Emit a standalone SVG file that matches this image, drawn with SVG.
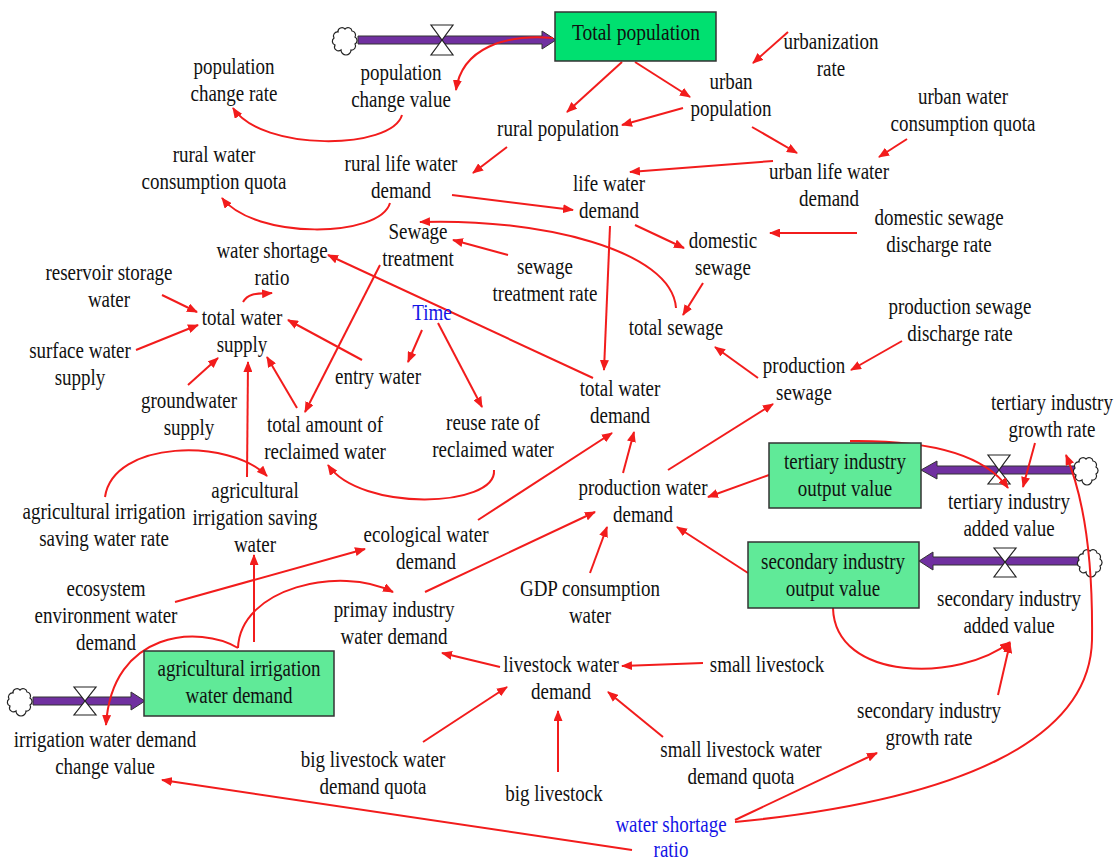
<svg xmlns="http://www.w3.org/2000/svg" width="1116" height="861" viewBox="0 0 1116 861">
<defs>
<marker id="ah" markerWidth="11" markerHeight="9" refX="10" refY="4.5" orient="auto" markerUnits="userSpaceOnUse">
<path d="M0,0 L11,4.5 L0,9 z" fill="#f21c1c"/>
</marker>
<path id="cloud" d="M-6,10 a4,4 0 0 1 -6,-5 a4,4 0 0 1 -1,-7 a4,4 0 0 1 4,-6 a4,4 0 0 1 7,-3 a4,4 0 0 1 7,2 a4,4 0 0 1 3,6 a4,4 0 0 1 0,7 a4,4 0 0 1 -4,6 a4,4 0 0 1 -10,0 z"/>
</defs>
<style>
.t{font-family:"Liberation Serif","Times New Roman",serif;font-size:19px;fill:#111;text-anchor:middle}
.b{fill:#1414e6}
.stock{fill:#60ea98;stroke:#333;stroke-width:1.5}
.stock0{fill:#00e070;stroke:#333;stroke-width:1.5}
.pipe{fill:#7030a0;stroke:#333;stroke-width:1}
.valve{fill:#fff;stroke:#222;stroke-width:1.2}
.cl{fill:#fff;stroke:#222;stroke-width:1.2}
.c{fill:none;stroke:#f21c1c;stroke-width:2;marker-end:url(#ah)}
</style>
<rect width="1116" height="861" fill="#fff"/>

<!-- flows -->
<g id="flows">
<polygon class="pipe" points="358,36 542,36 542,31 556,40 542,49 542,44 358,44"/>
<use href="#cloud" class="cl" x="347" y="40"/>
<polygon class="valve" points="431,25 453,25 442,40"/>
<polygon class="valve" points="442,40 431,55 453,55"/>

<polygon class="pipe" points="33,697 131,697 131,692 145,701 131,710 131,705 33,705"/>
<use href="#cloud" class="cl" x="22" y="701"/>
<polygon class="valve" points="74,687 96,687 85,701"/>
<polygon class="valve" points="85,701 74,715 96,715"/>

<polygon class="pipe" points="1078,466 937,466 937,461 921,470 937,479 937,474 1078,474"/>
<use href="#cloud" class="cl" x="1088" y="470"/>
<polygon class="valve" points="988,455 1010,455 999,470"/>
<polygon class="valve" points="999,470 988,484 1010,484"/>

<polygon class="pipe" points="1082,557 933,557 933,552 919,561 933,570 933,565 1082,565"/>
<use href="#cloud" class="cl" x="1092" y="562"/>
<polygon class="valve" points="994,548 1016,548 1005,562"/>
<polygon class="valve" points="1005,562 994,577 1016,577"/>
</g>

<!-- connectors -->
<g id="connectors">
<line class="c" x1="622" y1="62" x2="567" y2="112"/>
<line class="c" x1="635" y1="62" x2="690" y2="97"/>
<line class="c" x1="683" y1="108" x2="622" y2="125"/>
<line class="c" x1="788" y1="32" x2="753" y2="63"/>
<path class="c" d="M553,38 C505,34 462,48 456,90"/>
<path class="c" d="M402,115 C392,150 262,152 233,108"/>
<line class="c" x1="507" y1="147" x2="473" y2="173"/>
<path class="c" d="M390,203 C380,238 255,240 222,198"/>
<line class="c" x1="452" y1="195" x2="573" y2="210"/>
<line class="c" x1="752" y1="127" x2="797" y2="153"/>
<line class="c" x1="907" y1="139" x2="879" y2="157"/>
<line class="c" x1="773" y1="161" x2="630" y2="172"/>
<line class="c" x1="635" y1="225" x2="684" y2="248"/>
<line class="c" x1="857" y1="233" x2="770" y2="233"/>
<line class="c" x1="610" y1="226" x2="604" y2="370"/>
<line class="c" x1="703" y1="283" x2="683" y2="315"/>
<path class="c" d="M676,308 C672,250 540,218 420,222"/>
<line class="c" x1="508" y1="255" x2="453" y2="240"/>
<line class="c" x1="380" y1="265" x2="305" y2="412"/>
<line class="c" x1="593" y1="378" x2="328" y2="255"/>
<path class="c" d="M243,302 C249,292 259,294 272,293"/>
<line class="c" x1="162" y1="295" x2="197" y2="312"/>
<line class="c" x1="136" y1="350" x2="198" y2="325"/>
<line class="c" x1="188" y1="385" x2="218" y2="358"/>
<line class="c" x1="362" y1="360" x2="288" y2="320"/>
<line class="c" x1="297" y1="408" x2="267" y2="357"/>
<line class="c" x1="247" y1="477" x2="248" y2="362"/>
<line class="c" x1="422" y1="330" x2="408" y2="362"/>
<line class="c" x1="438" y1="323" x2="482" y2="407"/>
<path class="c" d="M494,470 C497,508 360,512 328,465"/>
<path class="c" d="M105,497 C113,440 230,438 267,476"/>
<line class="c" x1="254" y1="642" x2="254" y2="555"/>
<path class="c" d="M238,648 C240,588 340,565 393,592"/>
<path class="c" d="M238,648 C200,625 112,630 106,725"/>
<line class="c" x1="175" y1="602" x2="365" y2="549"/>
<line class="c" x1="478" y1="520" x2="612" y2="433"/>
<line class="c" x1="425" y1="592" x2="595" y2="512"/>
<line class="c" x1="590" y1="573" x2="607" y2="527"/>
<line class="c" x1="748" y1="573" x2="677" y2="527"/>
<line class="c" x1="769" y1="475" x2="708" y2="497"/>
<line class="c" x1="623" y1="473" x2="634" y2="432"/>
<line class="c" x1="668" y1="470" x2="773" y2="404"/>
<line class="c" x1="758" y1="378" x2="715" y2="347"/>
<line class="c" x1="902" y1="341" x2="851" y2="370"/>
<line class="c" x1="1035" y1="443" x2="1023" y2="487"/>
<path class="c" d="M850,441 C930,440 985,455 1008,488"/>
<path class="c" d="M735,822 C960,800 1090,740 1092,640 C1093,560 1085,500 1066,455"/>
<line class="c" x1="735" y1="820" x2="877" y2="753"/>
<line class="c" x1="632" y1="850" x2="162" y2="780"/>
<path class="c" d="M833,608 C835,682 960,682 1010,642"/>
<line class="c" x1="998" y1="695" x2="1010" y2="643"/>
<line class="c" x1="500" y1="667" x2="442" y2="653"/>
<line class="c" x1="703" y1="663" x2="622" y2="666"/>
<line class="c" x1="423" y1="742" x2="507" y2="687"/>
<line class="c" x1="558" y1="772" x2="558" y2="711"/>
<line class="c" x1="663" y1="737" x2="608" y2="692"/>
</g>

<!-- nodes -->
<g id="n-total-population"><rect class="stock0" x="555" y="12" width="161" height="49"/><text class="t" style="font-size:19.5px" transform="translate(636,40) scale(1,1.18)">Total population</text></g>
<g id="n-population-change-value"><text class="t" transform="translate(401,80) scale(1,1.18)"><tspan x="0">population</tspan><tspan x="0" dy="22.9">change value</tspan></text></g>
<g id="n-population-change-rate"><text class="t" transform="translate(234,74) scale(1,1.18)"><tspan x="0">population</tspan><tspan x="0" dy="22.9">change rate</tspan></text></g>
<g id="n-urbanization-rate"><text class="t" transform="translate(831,49) scale(1,1.18)"><tspan x="0">urbanization</tspan><tspan x="0" dy="22.9">rate</tspan></text></g>
<g id="n-urban-population"><text class="t" transform="translate(731,89) scale(1,1.18)"><tspan x="0">urban</tspan><tspan x="0" dy="22.9">population</tspan></text></g>
<g id="n-rural-population"><text class="t" transform="translate(558,136) scale(1,1.18)">rural population</text></g>
<g id="n-urban-water-quota"><text class="t" transform="translate(963,104) scale(1,1.18)"><tspan x="0">urban water</tspan><tspan x="0" dy="22.9">consumption quota</tspan></text></g>
<g id="n-rural-water-quota"><text class="t" transform="translate(214,162) scale(1,1.18)"><tspan x="0">rural water</tspan><tspan x="0" dy="22.9">consumption quota</tspan></text></g>
<g id="n-rural-life-water-demand"><text class="t" transform="translate(401,171) scale(1,1.18)"><tspan x="0">rural life water</tspan><tspan x="0" dy="22.9">demand</tspan></text></g>
<g id="n-life-water-demand"><text class="t" transform="translate(609,191) scale(1,1.18)"><tspan x="0">life water</tspan><tspan x="0" dy="22.9">demand</tspan></text></g>
<g id="n-urban-life-water-demand"><text class="t" transform="translate(829,179) scale(1,1.18)"><tspan x="0">urban life water</tspan><tspan x="0" dy="22.9">demand</tspan></text></g>
<g id="n-domestic-sewage-discharge-rate"><text class="t" transform="translate(939,225) scale(1,1.18)"><tspan x="0">domestic sewage</tspan><tspan x="0" dy="22.9">discharge rate</tspan></text></g>
<g id="n-sewage-treatment"><text class="t" transform="translate(418,239) scale(1,1.18)"><tspan x="0">Sewage</tspan><tspan x="0" dy="22.9">treatment</tspan></text></g>
<g id="n-water-shortage-ratio"><text class="t" transform="translate(272,258) scale(1,1.18)"><tspan x="0">water shortage</tspan><tspan x="0" dy="22.9">ratio</tspan></text></g>
<g id="n-domestic-sewage"><text class="t" transform="translate(723,248) scale(1,1.18)"><tspan x="0">domestic</tspan><tspan x="0" dy="22.9">sewage</tspan></text></g>
<g id="n-sewage-treatment-rate"><text class="t" transform="translate(545,274) scale(1,1.18)"><tspan x="0">sewage</tspan><tspan x="0" dy="22.9">treatment rate</tspan></text></g>
<g id="n-reservoir"><text class="t" transform="translate(109,280) scale(1,1.18)"><tspan x="0">reservoir storage</tspan><tspan x="0" dy="22.9">water</tspan></text></g>
<g id="n-total-water-supply"><text class="t" transform="translate(242,325) scale(1,1.18)"><tspan x="0">total water</tspan><tspan x="0" dy="22.9">supply</tspan></text></g>
<g id="n-time"><text class="t b" transform="translate(432,320) scale(1,1.18)">Time</text></g>
<g id="n-total-sewage"><text class="t" transform="translate(676,335) scale(1,1.18)">total sewage</text></g>
<g id="n-production-sewage-discharge-rate"><text class="t" transform="translate(960,314) scale(1,1.18)"><tspan x="0">production sewage</tspan><tspan x="0" dy="22.9">discharge rate</tspan></text></g>
<g id="n-surface-water"><text class="t" transform="translate(80,358) scale(1,1.18)"><tspan x="0">surface water</tspan><tspan x="0" dy="22.9">supply</tspan></text></g>
<g id="n-entry-water"><text class="t" transform="translate(378,384) scale(1,1.18)">entry water</text></g>
<g id="n-production-sewage"><text class="t" transform="translate(804,373) scale(1,1.18)"><tspan x="0">production</tspan><tspan x="0" dy="22.9">sewage</tspan></text></g>
<g id="n-total-water-demand"><text class="t" transform="translate(620,396) scale(1,1.18)"><tspan x="0">total water</tspan><tspan x="0" dy="22.9">demand</tspan></text></g>
<g id="n-groundwater"><text class="t" transform="translate(189,408) scale(1,1.18)"><tspan x="0">groundwater</tspan><tspan x="0" dy="22.9">supply</tspan></text></g>
<g id="n-reclaimed-total"><text class="t" transform="translate(325,432) scale(1,1.18)"><tspan x="0">total amount of</tspan><tspan x="0" dy="22.9">reclaimed water</tspan></text></g>
<g id="n-reuse-rate"><text class="t" transform="translate(493,430) scale(1,1.18)"><tspan x="0">reuse rate of</tspan><tspan x="0" dy="22.9">reclaimed water</tspan></text></g>
<g id="n-tertiary-growth"><text class="t" transform="translate(1052,410) scale(1,1.18)"><tspan x="0">tertiary industry</tspan><tspan x="0" dy="22.9">growth rate</tspan></text></g>
<g id="n-tertiary-output"><rect class="stock" x="769" y="443" width="152" height="65"/><text class="t" transform="translate(845,469) scale(1,1.18)"><tspan x="0">tertiary industry</tspan><tspan x="0" dy="22.9">output value</tspan></text></g>
<g id="n-tertiary-added"><text class="t" transform="translate(1009,509) scale(1,1.18)"><tspan x="0">tertiary industry</tspan><tspan x="0" dy="22.9">added value</tspan></text></g>
<g id="n-ag-saving"><text class="t" transform="translate(255,498) scale(1,1.18)"><tspan x="0">agricultural</tspan><tspan x="0" dy="22.9">irrigation saving</tspan><tspan x="0" dy="22.9">water</tspan></text></g>
<g id="n-ag-saving-rate"><text class="t" transform="translate(104,519) scale(1,1.18)"><tspan x="0">agricultural irrigation</tspan><tspan x="0" dy="22.9">saving water rate</tspan></text></g>
<g id="n-production-water-demand"><text class="t" transform="translate(643,495) scale(1,1.18)"><tspan x="0">production water</tspan><tspan x="0" dy="22.9">demand</tspan></text></g>
<g id="n-ecological-water-demand"><text class="t" transform="translate(426,542) scale(1,1.18)"><tspan x="0">ecological water</tspan><tspan x="0" dy="22.9">demand</tspan></text></g>
<g id="n-secondary-output"><rect class="stock" x="748" y="542" width="171" height="66"/><text class="t" transform="translate(833,569) scale(1,1.18)"><tspan x="0">secondary industry</tspan><tspan x="0" dy="22.9">output value</tspan></text></g>
<g id="n-secondary-added"><text class="t" transform="translate(1009,606) scale(1,1.18)"><tspan x="0">secondary industry</tspan><tspan x="0" dy="22.9">added value</tspan></text></g>
<g id="n-ecosystem"><text class="t" transform="translate(106,596) scale(1,1.18)"><tspan x="0">ecosystem</tspan><tspan x="0" dy="22.9">environment water</tspan><tspan x="0" dy="22.9">demand</tspan></text></g>
<g id="n-gdp"><text class="t" transform="translate(590,596) scale(1,1.18)"><tspan x="0">GDP consumption</tspan><tspan x="0" dy="22.9">water</tspan></text></g>
<g id="n-primary"><text class="t" transform="translate(394,617) scale(1,1.18)"><tspan x="0">primay industry</tspan><tspan x="0" dy="22.9">water demand</tspan></text></g>
<g id="n-ag-demand"><rect class="stock" x="144" y="651" width="190" height="65"/><text class="t" transform="translate(239,676) scale(1,1.18)"><tspan x="0">agricultural irrigation</tspan><tspan x="0" dy="22.9">water demand</tspan></text></g>
<g id="n-livestock-demand"><text class="t" transform="translate(561,672) scale(1,1.18)"><tspan x="0">livestock water</tspan><tspan x="0" dy="22.9">demand</tspan></text></g>
<g id="n-small-livestock"><text class="t" transform="translate(767,672) scale(1,1.18)">small livestock</text></g>
<g id="n-irrigation-change"><text class="t" transform="translate(105,747) scale(1,1.18)"><tspan x="0">irrigation water demand</tspan><tspan x="0" dy="22.9">change value</tspan></text></g>
<g id="n-secondary-growth"><text class="t" transform="translate(929,718) scale(1,1.18)"><tspan x="0">secondary industry</tspan><tspan x="0" dy="22.9">growth rate</tspan></text></g>
<g id="n-big-quota"><text class="t" transform="translate(373,767) scale(1,1.18)"><tspan x="0">big livestock water</tspan><tspan x="0" dy="22.9">demand quota</tspan></text></g>
<g id="n-small-quota"><text class="t" transform="translate(741,757) scale(1,1.18)"><tspan x="0">small livestock water</tspan><tspan x="0" dy="22.9">demand quota</tspan></text></g>
<g id="n-big-livestock"><text class="t" transform="translate(554,801) scale(1,1.18)">big livestock</text></g>
<g id="n-water-shortage-ratio-2"><text class="t b" transform="translate(671,832) scale(1,1.18)"><tspan x="0">water shortage</tspan><tspan x="0" dy="21.5">ratio</tspan></text></g>
</svg>
